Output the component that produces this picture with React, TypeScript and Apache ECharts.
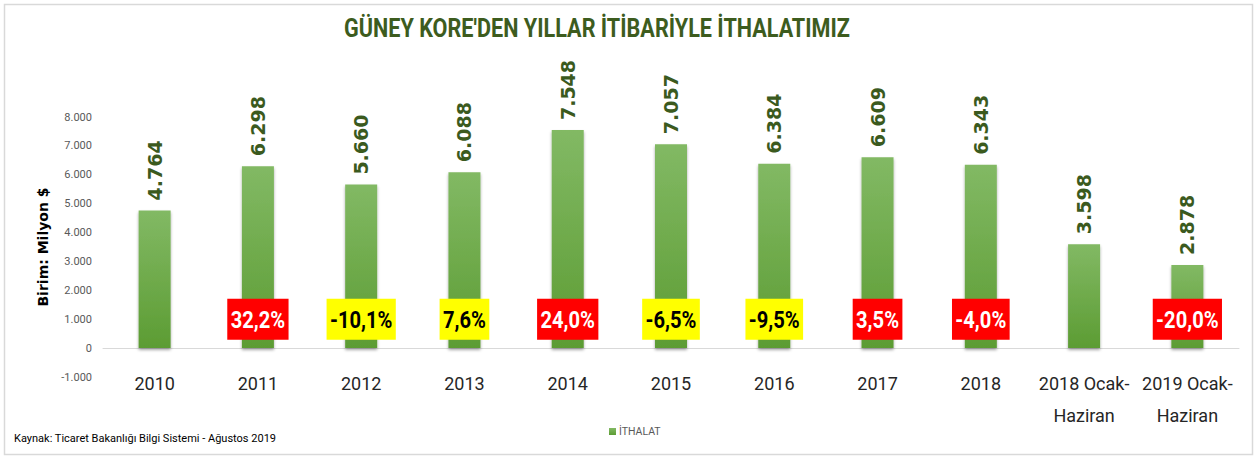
import React, { useEffect, useRef } from "react";
import * as echarts from "echarts";

const categories = ["2010", "2011", "2012", "2013", "2014", "2015", "2016", "2017", "2018", "2018 Ocak-\nHaziran", "2019 Ocak-\nHaziran"];
const imports = [4764, 6298, 5660, 6088, 7548, 7057, 6384, 6609, 6343, 3598, 2878];
const growth: (number | null)[] = [null, 32.2, -10.1, 7.6, 24.0, -6.5, -9.5, 3.5, -4.0, null, -20.0];
const growthBoxColors: (string | null)[] = [null, "#FF0000", "#FFFF00", "#FFFF00", "#FF0000", "#FFFF00", "#FFFF00", "#FF0000", "#FF0000", null, "#FF0000"];
const yTicks = { min: -1000, max: 8000, interval: 1000 };
const titleText = "GÜNEY KORE'DEN YILLAR İTİBARİYLE İTHALATIMIZ";
const sourceText = "Kaynak: Ticaret Bakanlığı Bilgi Sistemi - Ağustos 2019";
const seriesName = "İTHALAT";
const GROWTH_LABEL_Y = 1000;

const SANS = "Roboto, 'Liberation Sans', sans-serif";

function fmtThousands(v: number): string {
  const neg = v < 0;
  const s = Math.abs(Math.round(v)).toString();
  const out = s.replace(/\B(?=(\d{3})+(?!\d))/g, ".");
  return (neg ? "-" : "") + out;
}

function fmtPct(v: number): string {
  return v.toFixed(1).replace(".", ",") + "%";
}

export default function App() {
  const ref = useRef<HTMLDivElement>(null);
  useEffect(() => {
    if (!ref.current) return;
    const chart = echarts.init(ref.current, null, { renderer: "svg" });
    const growthData = growth
      .map((g, i) => (g === null ? null : { value: [i, GROWTH_LABEL_Y, g], boxColor: growthBoxColors[i] || "#FF0000" }))
      .filter((d) => d !== null);
    chart.setOption({
      animation: false,
      backgroundColor: "#FFFFFF",
      legend: {
        data: [seriesName],
        left: 604,
        top: 421,
        icon: "rect",
        itemWidth: 7,
        itemHeight: 7,
        itemGap: 4,
        textStyle: { color: "#595959", fontSize: 10.5, fontFamily: SANS, padding: [0, 0, 0, -2] },
      },
      grid: { left: 103, right: 20, top: 117, bottom: 80, containLabel: false, outerBoundsMode: "none" },
      xAxis: {
        type: "category",
        data: categories,
        axisLine: { onZero: true, lineStyle: { color: "#D9D9D9", width: 1 } },
        axisTick: { show: false },
        axisLabel: {
          interval: 0,
          margin: -10,
          color: "#262626",
          fontSize: 18,
          lineHeight: 32,
          fontFamily: SANS,
        },
      },
      yAxis: {
        type: "value",
        min: yTicks.min,
        max: yTicks.max,
        interval: yTicks.interval,
        name: "Birim: Milyon $",
        nameLocation: "middle",
        nameGap: 48,
        nameTextStyle: { color: "#000000", fontSize: 14, fontWeight: "bold", fontFamily: "'DejaVu Sans', sans-serif" },
        splitLine: { show: false },
        axisLine: { show: false },
        axisTick: { show: false },
        axisLabel: {
          color: "#595959",
          fontSize: 11,
          margin: 11,
          fontFamily: SANS,
          formatter: (v: number) => fmtThousands(v),
        },
      },
      graphic: [
        {
          type: "rect",
          shape: { x: 4.5, y: 4.5, width: 1248, height: 450 },
          style: { fill: "none", stroke: "#D9D9D9", lineWidth: 1.5 },
          silent: true,
          z: -1,
        },
        {
          type: "text",
          x: 597,
          y: 28,
          scaleX: 0.865,
          style: {
            text: titleText,
            x: 0,
            y: 0,
            align: "center",
            verticalAlign: "middle",
            fill: "#3D5C1E",
            fontSize: 25,
            fontWeight: "bold",
            fontFamily: SANS,
          },
        },
        {
          type: "text",
          left: 14,
          top: 433,
          style: { text: sourceText, fill: "#000000", fontSize: 11, fontFamily: SANS },
        },
      ],
      series: [
        {
          name: seriesName,
          type: "bar",
          data: imports,
          barWidth: 32,
          itemStyle: {
            color: new echarts.graphic.LinearGradient(0, 0, 0, 1, [
              { offset: 0, color: "#82B964" },
              { offset: 1, color: "#5C9C33" },
            ]),
            shadowColor: "rgba(0,0,0,0.35)",
            shadowBlur: 3,
            shadowOffsetY: 2,
          },
          label: {
            show: true,
            position: "top",
            rotate: 90,
            align: "left",
            verticalAlign: "middle",
            distance: 10,
            color: "#3B5A1E",
            fontSize: 19,
            fontWeight: "bold",
            fontFamily: "'DejaVu Sans', sans-serif",
            formatter: (p: any) => fmtThousands(p.value),
          },
          z: 2,
        },
        {
          name: "growth",
          type: "custom",
          data: growthData,
          silent: true,
          z: 5,
          renderItem: (params: any, api: any) => {
            const item: any = growthData[params.dataIndex];
            const pt = api.coord([api.value(0), api.value(1)]);
            const pct = api.value(2);
            const bg = item.boxColor;
            return {
              type: "text",
              x: pt[0],
              y: pt[1],
              scaleX: 0.84,
              style: {
                text: fmtPct(pct),
                x: 0,
                y: 0,
                align: "center",
                verticalAlign: "middle",
                fill: bg === "#FFFF00" ? "#000000" : "#FFFFFF",
                backgroundColor: bg,
                padding: [9, 4, 8, 4],
                lineHeight: 24,
                fontSize: 24,
                fontWeight: "bold",
                fontFamily: SANS,
              },
            };
          },
        },
      ],
    });
    return () => chart.dispose();
  }, []);
  return <div ref={ref} style={{ position: "fixed", left: 0, top: 0, width: 1259, height: 457 }} />;
}
